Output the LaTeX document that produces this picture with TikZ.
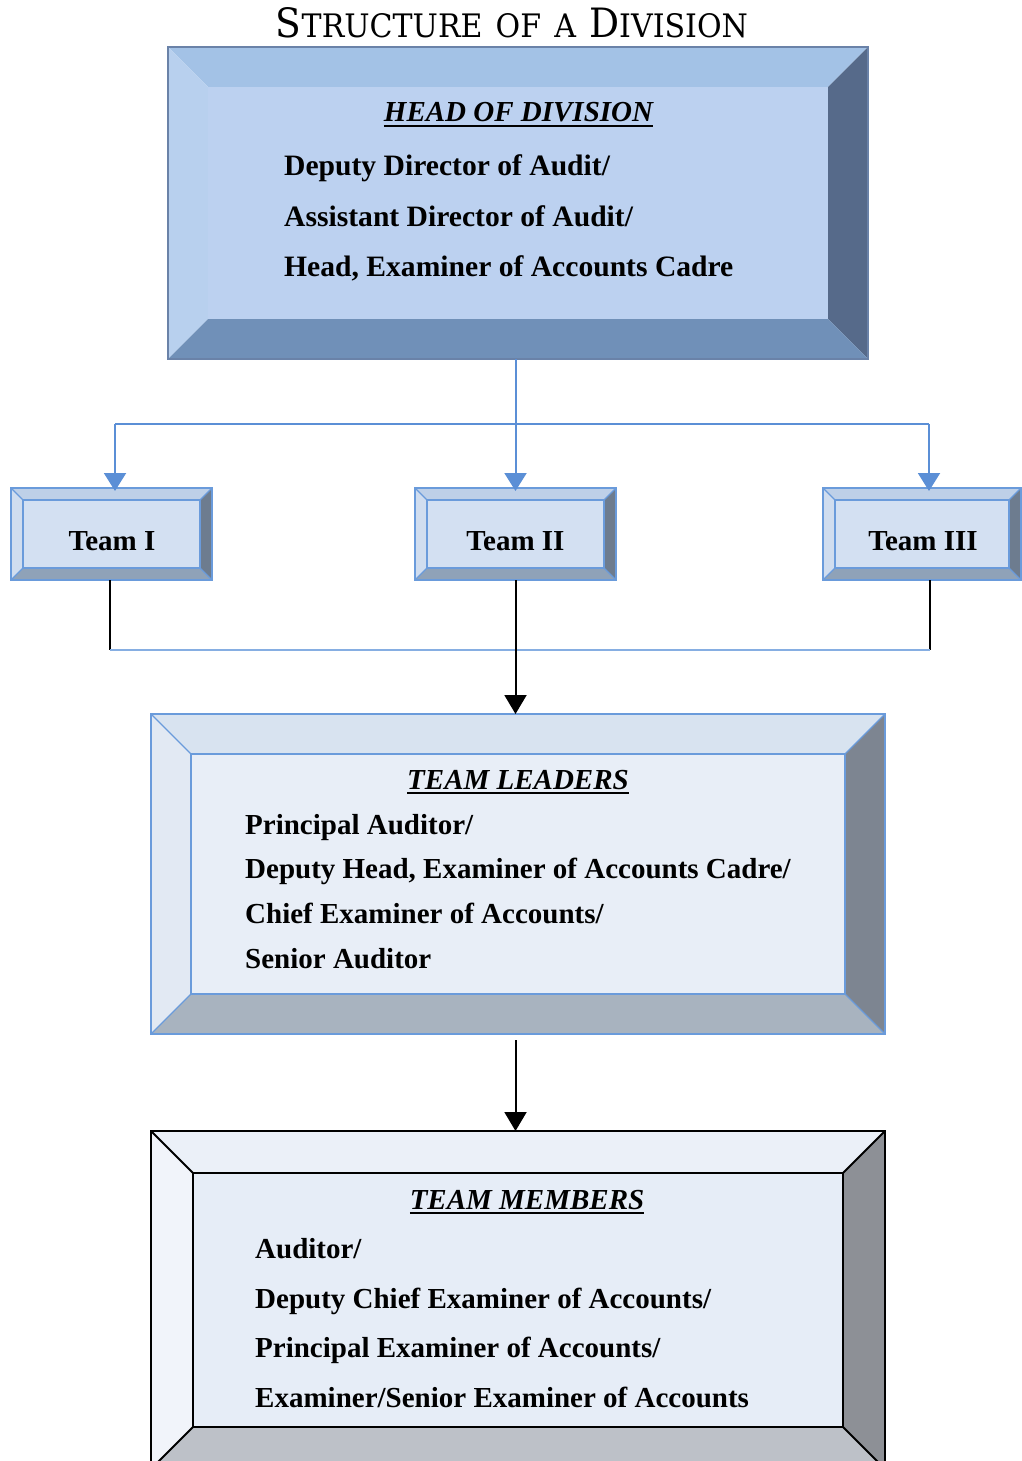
\documentclass[tikz,border=0pt]{standalone}
\usepackage{fontspec}
\setmainfont{Liberation Serif}
\newfontfamily\titlefont{DejaVu Serif}
\usetikzlibrary{calc,arrows.meta}

\definecolor{hdTop}{HTML}{A3C2E6}
\definecolor{hdLeft}{HTML}{B8D0EE}
\definecolor{hdRight}{HTML}{566A8A}
\definecolor{hdBot}{HTML}{7090B8}
\definecolor{hdIn}{HTML}{BCD1F0}
\definecolor{hdLine}{HTML}{6A82A8}

\definecolor{tmTop}{HTML}{BED0E8}
\definecolor{tmLeft}{HTML}{D0DDEF}
\definecolor{tmRight}{HTML}{6D7C8F}
\definecolor{tmBot}{HTML}{8FA2B8}
\definecolor{tmIn}{HTML}{D3E0F2}

\definecolor{tlTop}{HTML}{D8E3F0}
\definecolor{tlLeft}{HTML}{E2E9F3}
\definecolor{tlRight}{HTML}{7D8591}
\definecolor{tlBot}{HTML}{A8B3BF}
\definecolor{tlIn}{HTML}{E8EEF7}

\definecolor{mbTop}{HTML}{EBF0F8}
\definecolor{mbLeft}{HTML}{F1F4FA}
\definecolor{mbRight}{HTML}{8D9096}
\definecolor{mbBot}{HTML}{BDC1C8}
\definecolor{mbIn}{HTML}{E6EDF7}

\definecolor{edgeBlue}{HTML}{6A9BDB}
\definecolor{connBlue}{HTML}{5B8FD6}
\definecolor{busBlue}{HTML}{86AEE2}

\newcommand\myul[1]{\setbox0\hbox{#1}\rlap{\rule[-5pt]{\wd0}{2pt}}\box0}
\newcommand\fsc[2]{{\fontsize{40}{40}\selectfont #1}{\fontsize{32}{32}\selectfont #2}}

% #1 name, #2 bevel, #3 top, #4 left, #5 right, #6 bottom, #7 inner, #8 line style
\newcommand\bevel[8]{%
  \fill[#3] (#1.north west) -- (#1.north east) -- ($(#1.north east)+(-#2,#2)$) -- ($(#1.north west)+(#2,#2)$) -- cycle;
  \fill[#4] (#1.north west) -- ($(#1.north west)+(#2,#2)$) -- ($(#1.south west)+(#2,-#2)$) -- (#1.south west) -- cycle;
  \fill[#5] (#1.north east) -- (#1.south east) -- ($(#1.south east)+(-#2,-#2)$) -- ($(#1.north east)+(-#2,#2)$) -- cycle;
  \fill[#6] (#1.south west) -- ($(#1.south west)+(#2,-#2)$) -- ($(#1.south east)+(-#2,-#2)$) -- (#1.south east) -- cycle;
  \fill[#7] ($(#1.north west)+(#2,#2)$) rectangle ($(#1.south east)+(-#2,-#2)$);
  \draw[#8] (#1.north west) rectangle (#1.south east);
  \draw[#8] ($(#1.north west)+(#2,#2)$) rectangle ($(#1.south east)+(-#2,-#2)$);
  \draw[#8] (#1.north west) -- ($(#1.north west)+(#2,#2)$)
            (#1.north east) -- ($(#1.north east)+(-#2,#2)$)
            (#1.south east) -- ($(#1.south east)+(-#2,-#2)$)
            (#1.south west) -- ($(#1.south west)+(#2,-#2)$);
}

\tikzset{
  frame/.style={inner sep=0pt, outer sep=0pt},
  txt/.style={anchor=base west, inner sep=0pt, font=\fontsize{29}{29}\selectfont\bfseries},
  headtxt/.style={anchor=base, inner sep=0pt, font=\fontsize{29}{29}\selectfont\bfseries\itshape},
  teamtxt/.style={anchor=base, inner sep=0pt, font=\fontsize{29}{29}\selectfont\bfseries},
  bluearrow/.style={draw=connBlue, line width=2pt, -{Triangle[width=22pt,length=18pt]}},
  blackarrow/.style={draw=black, line width=2pt, -{Triangle[width=22pt,length=19pt]}},
  blackline/.style={draw=black, line width=1.6pt},
  busline/.style={draw=busBlue, line width=1.3pt},
}

\begin{document}
\begin{tikzpicture}[x=1pt, y=-1pt]
\useasboundingbox (0,0) rectangle (1022,1461);
\clip (0,0) rectangle (1022,1461);
\fill[white] (0,0) rectangle (1022,1461);

% title
\node[anchor=base, inner sep=0pt] (title) at (512,38)
  {\resizebox{472pt}{30pt}{\titlefont\fsc{S}{TRUCTURE}\hspace{14pt}\fsc{}{OF}\hspace{14pt}\fsc{}{A}\hspace{14pt}\fsc{D}{IVISION}}};

% boxes
\node[frame, minimum width=700pt, minimum height=312pt] (head) at (518,203) {};
\bevel{head}{40}{hdTop}{hdLeft}{hdRight}{hdBot}{hdIn}{draw=none}
\draw[hdLine, line width=1.5pt] (head.north west) rectangle (head.south east);

\node[frame, minimum width=201pt, minimum height=92pt] (team1) at (111.5,534) {};
\node[frame, minimum width=201pt, minimum height=92pt] (team2) at (515.5,534) {};
\node[frame, minimum width=198pt, minimum height=92pt] (team3) at (922,534) {};
\foreach \t in {team1,team2,team3}{
  \bevel{\t}{12}{tmTop}{tmLeft}{tmRight}{tmBot}{tmIn}{draw=edgeBlue, line width=1.2pt}
}

\node[frame, minimum width=734pt, minimum height=320pt] (leaders) at (518,874) {};
\bevel{leaders}{40}{tlTop}{tlLeft}{tlRight}{tlBot}{tlIn}{draw=edgeBlue, line width=1.2pt}

\node[frame, minimum width=734pt, minimum height=338pt] (members) at (518,1300) {};
\bevel{members}{42}{mbTop}{mbLeft}{mbRight}{mbBot}{mbIn}{draw=black, line width=2pt}

% texts: head
\node[headtxt] (hdT) at (518.5,122) {\myul{HEAD OF DIVISION}};
\node[txt, font=\fontsize{29.6}{30}\selectfont\bfseries] (hd1) at (284,175) {Deputy Director of Audit/};
\node[txt, font=\fontsize{29.6}{30}\selectfont\bfseries] (hd2) at (284,226) {Assistant Director of Audit/};
\node[txt, font=\fontsize{29.6}{30}\selectfont\bfseries] (hd3) at (284,276) {Head, Examiner of Accounts Cadre};

% teams
\node[teamtxt] (t1) at (112,550) {Team I};
\node[teamtxt] (t2) at (515.5,550) {Team II};
\node[teamtxt] (t3) at (923,550) {Team III};

% leaders
\node[headtxt] (tlT) at (518,789) {\myul{TEAM LEADERS}};
\node[txt] (tl1) at (245,834) {Principal Auditor/};
\node[txt] (tl2) at (245,878) {Deputy Head, Examiner of Accounts Cadre/};
\node[txt] (tl3) at (245,923) {Chief Examiner of Accounts/};
\node[txt] (tl4) at (245,968) {Senior Auditor};

% members
\node[headtxt] (mbT) at (527,1209) {\myul{TEAM MEMBERS}};
\node[txt] (mb1) at (255,1258) {Auditor/};
\node[txt] (mb2) at (255,1308) {Deputy Chief Examiner of Accounts/};
\node[txt] (mb3) at (255,1357) {Principal Examiner of Accounts/};
\node[txt] (mb4) at (255,1407) {Examiner/Senior Examiner of Accounts};

% upper connectors
\coordinate (a1) at (115,424);
\coordinate (a3) at (929,424);
\draw[connBlue, line width=1.3pt] (a1) -- (a3);
\draw[bluearrow] (head.south -| team2.north) -- ([yshift=-3pt]team2.north);
\draw[bluearrow] (a1) -- ([yshift=-3pt]a1 |- team1.north);
\draw[bluearrow] (a3) -- ([yshift=-3pt]a3 |- team3.north);

% lower connectors
\coordinate (b1) at (110,650);
\coordinate (b3) at (930,650);
\draw[blackline] (b1 |- team1.south) -- (b1);
\draw[blackline] (b3 |- team3.south) -- (b3);
\draw[busline] (b1) -- (b3);
\draw[blackarrow] (team2.south) -- (team2.south |- leaders.north);
\draw[blackarrow, shorten <=6pt] (leaders.south -| team2.south) -- (members.north -| team2.south);
\end{tikzpicture}
\end{document}
